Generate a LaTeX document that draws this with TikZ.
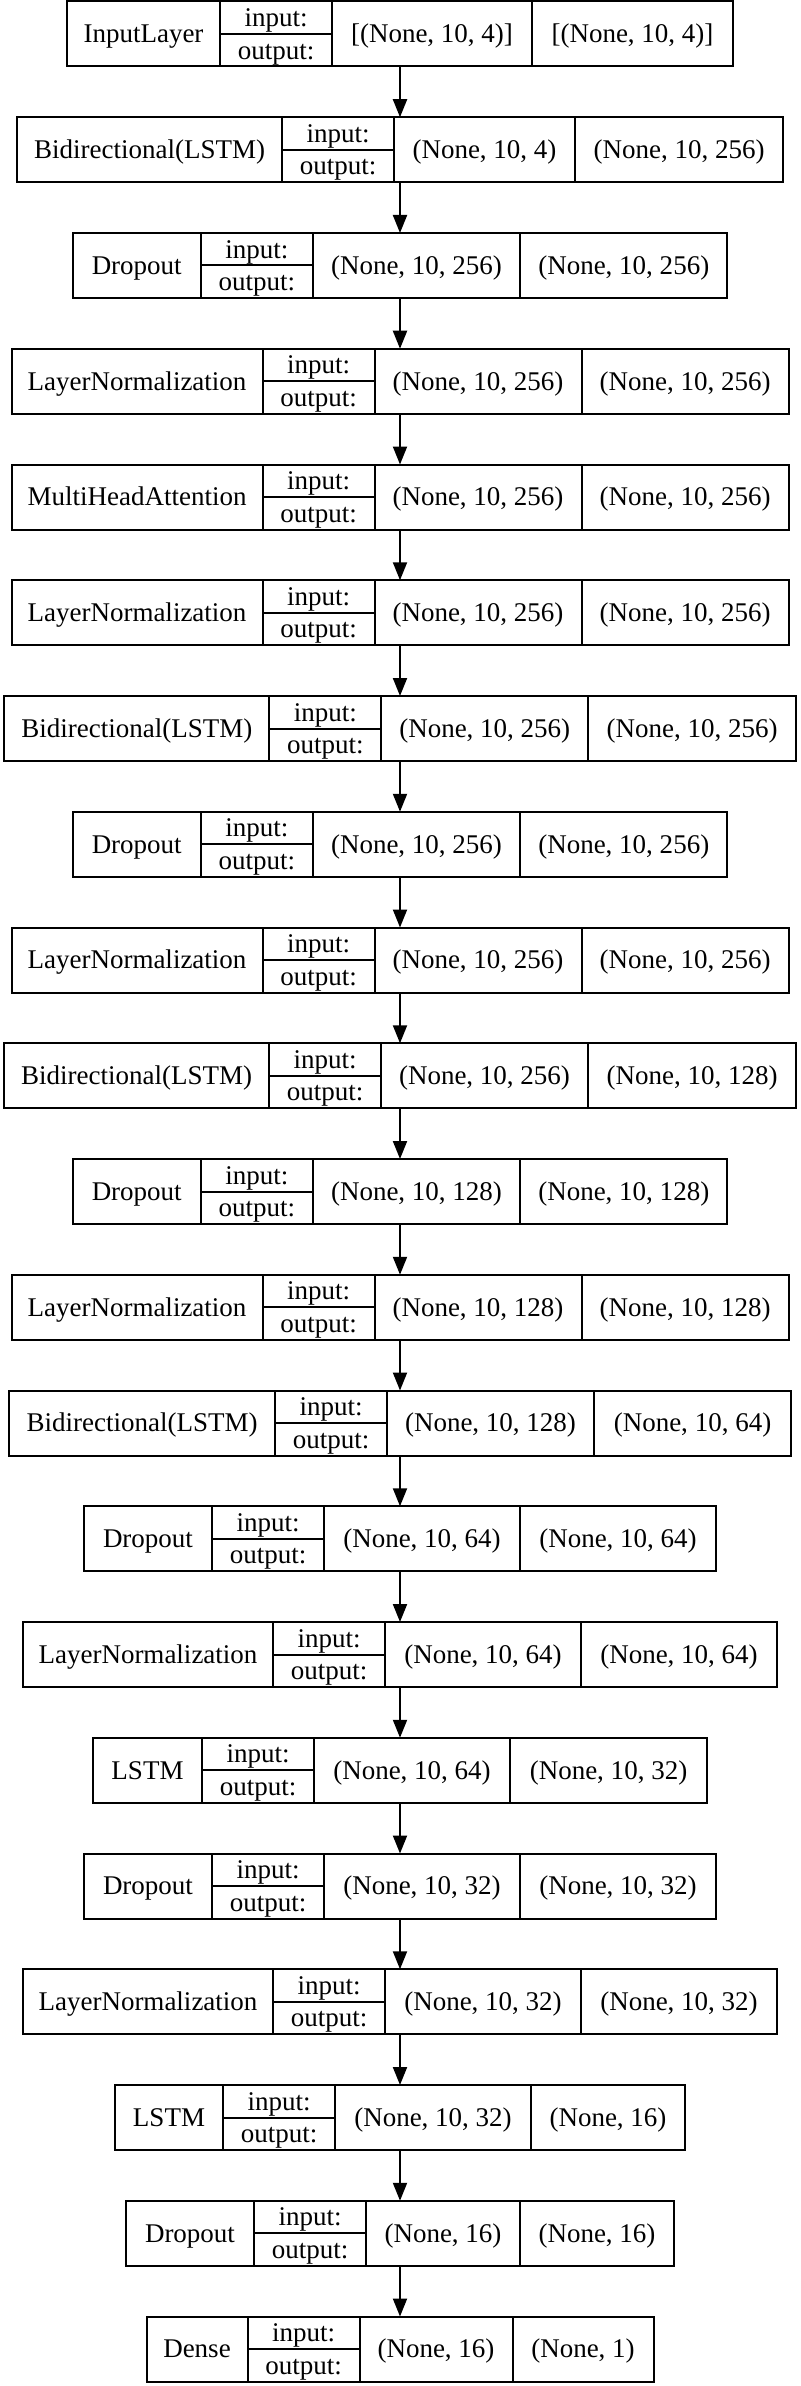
\documentclass[tikz,border=0pt]{standalone}
\usepackage{fontspec}
\setmainfont{Liberation Serif}
\usetikzlibrary{arrows.meta,positioning,fit}
\tikzset{
  cell/.style={draw, line width=1pt, outer sep=0pt, inner sep=0pt, minimum height=32.5pt, text height=10pt, text depth=1.1pt},
  port/.style={cell, minimum height=16.25pt, minimum width=56pt},
  rec/.style={inner sep=0pt, outer sep=0pt},
  arr/.style={-{Triangle[length=9pt,width=7pt]}, line width=1pt}
}
% one keras layer: name, row, widths (label, input, output), texts
\newcommand{\layer}[8]{%
  \pgfmathsetmacro{\recx}{200-(#3+56+#4+#5)/2}%
  \pgfmathsetmacro{\recy}{-0.75-57.875*#2}%
  \node[cell, minimum width=#3pt, anchor=north west] (#1l) at (\recx,\recy) {#6};
  \node[port, right=0pt of #1l.north east, anchor=north west] (#1i) {input:};
  \node[port, below=0pt of #1i] (#1o) {output:};
  \node[cell, minimum width=#4pt, right=0pt of #1i.north east, anchor=north west] (#1in) {#7};
  \node[cell, minimum width=#5pt, right=0pt of #1in] (#1out) {#8};
  \node[rec, fit=(#1l)(#1out)] (#1) {};
}

\begin{document}
\begin{tikzpicture}[x=1pt,y=1pt,font=\fontsize{13.5}{16}\selectfont]
\useasboundingbox (0,0) rectangle (400,-1193);
\layer{r0}{0}{76.5}{100}{100.5}{InputLayer}{[(None, 10, 4)]}{[(None, 10, 4)]}
\layer{r1}{1}{132.5}{90.5}{104}{Bidirectional(LSTM)}{(None, 10, 4)}{(None, 10, 256)}
\layer{r2}{2}{64}{103.75}{103.5}{Dropout}{(None, 10, 256)}{(None, 10, 256)}
\layer{r3}{3}{125.5}{103.5}{103.5}{LayerNormalization}{(None, 10, 256)}{(None, 10, 256)}
\layer{r4}{4}{125.5}{103.5}{103.5}{MultiHeadAttention}{(None, 10, 256)}{(None, 10, 256)}
\layer{r5}{5}{125.5}{103.5}{103.5}{LayerNormalization}{(None, 10, 256)}{(None, 10, 256)}
\layer{r6}{6}{132.5}{103.5}{103.75}{Bidirectional(LSTM)}{(None, 10, 256)}{(None, 10, 256)}
\layer{r7}{7}{64}{103.75}{103.5}{Dropout}{(None, 10, 256)}{(None, 10, 256)}
\layer{r8}{8}{125.5}{103.5}{103.5}{LayerNormalization}{(None, 10, 256)}{(None, 10, 256)}
\layer{r9}{9}{132.5}{103.5}{104}{Bidirectional(LSTM)}{(None, 10, 256)}{(None, 10, 128)}
\layer{r10}{10}{64}{103.75}{103.5}{Dropout}{(None, 10, 128)}{(None, 10, 128)}
\layer{r11}{11}{125.5}{103.5}{103.5}{LayerNormalization}{(None, 10, 128)}{(None, 10, 128)}
\layer{r12}{12}{133}{103.5}{98.5}{Bidirectional(LSTM)}{(None, 10, 128)}{(None, 10, 64)}
\layer{r13}{13}{64}{98}{98}{Dropout}{(None, 10, 64)}{(None, 10, 64)}
\layer{r14}{14}{125}{98}{98}{LayerNormalization}{(None, 10, 64)}{(None, 10, 64)}
\layer{r15}{15}{54.5}{98}{98.5}{LSTM}{(None, 10, 64)}{(None, 10, 32)}
\layer{r16}{16}{64}{98}{98}{Dropout}{(None, 10, 32)}{(None, 10, 32)}
\layer{r17}{17}{125}{98}{98}{LayerNormalization}{(None, 10, 32)}{(None, 10, 32)}
\layer{r18}{18}{54}{98}{77}{LSTM}{(None, 10, 32)}{(None, 16)}
\layer{r19}{19}{64}{77}{77}{Dropout}{(None, 16)}{(None, 16)}
\layer{r20}{20}{50.5}{76.5}{70.5}{Dense}{(None, 16)}{(None, 1)}
\foreach \a [count=\b] in {0,...,19}
  \draw[arr] (r\a) -- (r\b);
\end{tikzpicture}
\end{document}
